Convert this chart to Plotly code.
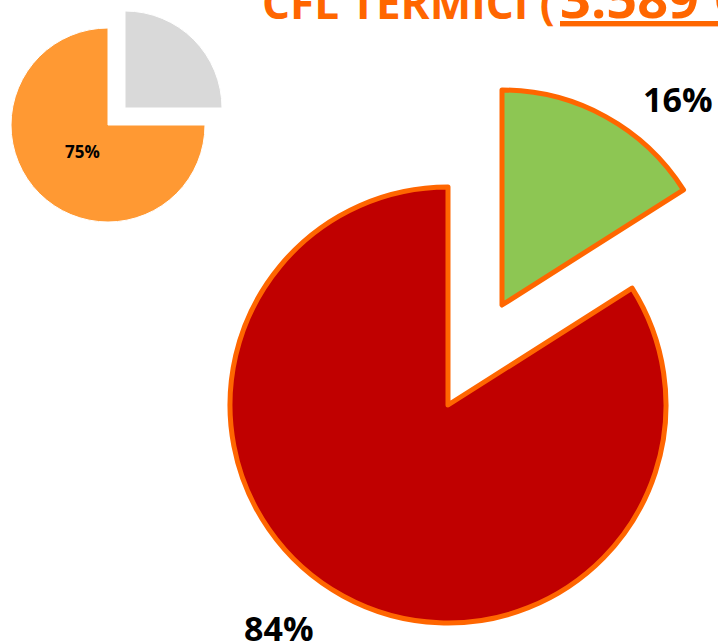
import plotly.graph_objects as go

W, H = 718, 643

# data (in drawing order, clockwise from 12 o'clock)
big_labels = ["Quota B", "Quota A"]
big_values = [16, 84]
big_text = ["16%", "84%"]
small_labels = ["Resto", "Quota"]
small_values = [25, 75]
small_text = ["75%"]
title_main = "CFL TERMICI ("
title_value = "3.589 GWh"

RED = "#C00000"
GREEN = "#8DC653"
ORANGE_LINE = "#FF6600"
ORANGE_SMALL = "#FF9933"
GRAY = "#D9D9D9"
CLEAR = "rgba(0,0,0,0)"


def dom(cx, cy, r):
    return dict(x=[(cx - r) / W, (cx + r) / W], y=[1 - (cy + r) / H, 1 - (cy - r) / H])


fig = go.Figure()
DIR = "clockwise"

# small pie: pulled-out gray part and orange part
fig.add_trace(go.Pie(labels=small_labels, values=small_values, sort=False, direction=DIR,
                     marker=dict(colors=[GRAY, CLEAR], line=dict(color=["white", CLEAR], width=[1, 0])),
                     textinfo="none", hoverinfo="label+percent", domain=dom(125, 108, 97), showlegend=False))
fig.add_trace(go.Pie(labels=small_labels, values=small_values, sort=False, direction=DIR,
                     marker=dict(colors=[CLEAR, ORANGE_SMALL], line=dict(color=[CLEAR, "white"], width=[0, 1])),
                     textinfo="none", hoverinfo="label+percent", domain=dom(108, 125, 97), showlegend=False))

# big pie: pulled-out green part and red part
fig.add_trace(go.Pie(labels=big_labels, values=big_values, sort=False, direction=DIR,
                     marker=dict(colors=[GREEN, CLEAR], line=dict(color=[ORANGE_LINE, CLEAR], width=[5, 0])),
                     textinfo="none", hoverinfo="label+percent", domain=dom(502, 305, 215), showlegend=False))
fig.add_trace(go.Pie(labels=big_labels, values=big_values, sort=False, direction=DIR,
                     marker=dict(colors=[CLEAR, RED], line=dict(color=[CLEAR, ORANGE_LINE], width=[0, 5])),
                     textinfo="none", hoverinfo="label+percent", domain=dom(448, 405, 218), showlegend=False))

FONT = "Open Sans"
ann = [
    dict(text=f"<b>{big_text[1]}</b>", x=279 / W, y=1 - 628 / H, size=34),
    dict(text=f"<b>{big_text[0]}</b>", x=678 / W, y=1 - 99 / H, size=34),
    dict(text=f"<b>{small_text[0]}</b>", x=82 / W, y=1 - 152 / H, size=17),
]
for a in ann:
    fig.add_annotation(text=a["text"], x=a["x"], y=a["y"], xref="paper", yref="paper",
                       xanchor="center", yanchor="middle", showarrow=False,
                       font=dict(family=FONT, size=a["size"], color="black"))

fig.add_annotation(text=f"<b>{title_main}</b>", x=260 / W, y=1 - 34 / H, xref="paper", yref="paper",
                   xanchor="left", yanchor="bottom", showarrow=False,
                   font=dict(family=FONT, size=44, color=ORANGE_LINE))
fig.add_annotation(text=f"<b><u>{title_value}</u>)</b>", x=558 / W, y=1 - 36 / H, xref="paper", yref="paper",
                   xanchor="left", yanchor="bottom", showarrow=False,
                   font=dict(family=FONT, size=54, color=ORANGE_LINE))

fig.update_layout(width=W, height=H, margin=dict(l=0, r=0, t=0, b=0),
                  paper_bgcolor="white", plot_bgcolor="white")

fig.write_html("out.html", config={"displayModeBar": False},
               post_script="document.body.style.margin='0';")
